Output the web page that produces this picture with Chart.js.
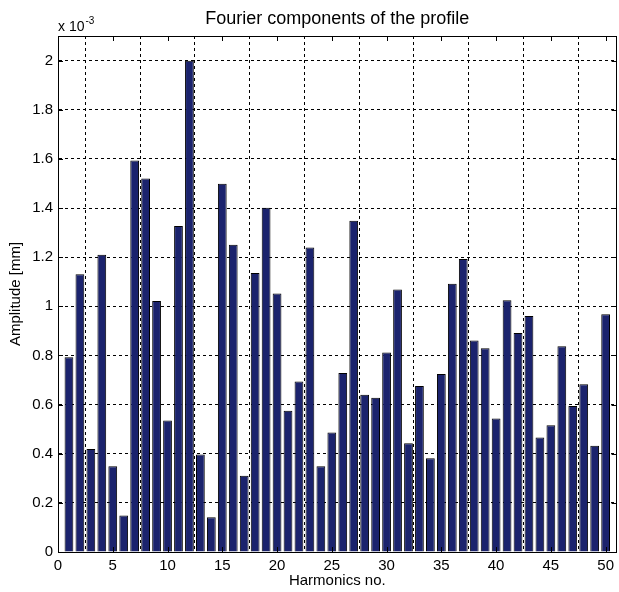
<!DOCTYPE html>
<html>
<head>
<meta charset="utf-8">
<script src="https://cdn.jsdelivr.net/npm/chart.js@4.4.7/dist/chart.umd.min.js"></script>
<style>
  html, body { margin: 0; padding: 0; background: #fff; }
  #wrap { width: 619px; height: 592px; position: relative; }
</style>
</head>
<body>
<div id="wrap"><canvas id="chart"></canvas></div>
<script>
var harmonics = [
  1, 2, 3, 4, 5, 6, 7, 8, 9, 10,
  11, 12, 13, 14, 15, 16, 17, 18, 19, 20,
  21, 22, 23, 24, 25, 26, 27, 28, 29, 30,
  31, 32, 33, 34, 35, 36, 37, 38, 39, 40,
  41, 42, 43, 44, 45, 46, 47, 48, 49, 50
];
// amplitude in units of 1e-3 mm
var amplitude = [
  0.793, 1.130, 0.419, 1.210, 0.349, 0.149, 1.593, 1.520, 1.022, 0.535,
  1.327, 1.999, 0.397, 0.141, 1.499, 1.250, 0.310, 1.135, 1.401, 1.052,
  0.575, 0.694, 1.239, 0.349, 0.486, 0.728, 1.348, 0.640, 0.628, 0.812,
  1.068, 0.443, 0.676, 0.382, 0.724, 1.092, 1.192, 0.861, 0.829, 0.543,
  1.025, 0.891, 0.960, 0.466, 0.516, 0.837, 0.594, 0.683, 0.432, 0.968
];
var xTicks = [0, 5, 10, 15, 20, 25, 30, 35, 40, 45, 50];
var yTicks = [0, 0.2, 0.4, 0.6, 0.8, 1, 1.2, 1.4, 1.6, 1.8, 2];

var FONT = '"Liberation Sans", Arial, sans-serif';

// MATLAB-style box, inward ticks, title and exponent label
var frame = {
  id: 'frame',
  afterDatasetsDraw: function (chart) {
    var a = chart.chartArea;
    var c = chart.ctx;
    var xs = chart.scales.x, ys = chart.scales.y;
    c.save();
    c.strokeStyle = '#000';
    c.lineWidth = 1;
    c.setLineDash([]);
    c.beginPath();
    xTicks.forEach(function (t) {
      var px = Math.round(xs.getPixelForValue(t)) + 0.5;
      c.moveTo(px, a.bottom); c.lineTo(px, a.bottom - 5);
      c.moveTo(px, a.top); c.lineTo(px, a.top + 5);
    });
    yTicks.forEach(function (t) {
      var py = Math.round(ys.getPixelForValue(t)) + 0.5;
      c.moveTo(a.left, py); c.lineTo(a.left + 5, py);
      c.moveTo(a.right, py); c.lineTo(a.right - 5, py);
    });
    c.stroke();
    c.strokeRect(Math.round(a.left) + 0.5, Math.round(a.top) + 0.5,
      Math.round(a.right - a.left) - 1, Math.round(a.bottom - a.top));
    c.restore();
  },
  afterDraw: function (chart) {
    var a = chart.chartArea;
    var c = chart.ctx;
    c.save();
    c.fillStyle = '#000';
    c.textBaseline = 'middle';
    c.textAlign = 'center';
    c.font = '18px ' + FONT;
    c.fillText('Fourier components of the profile', (a.left + a.right) / 2, 19);
    c.textAlign = 'left';
    c.textBaseline = 'alphabetic';
    c.font = '14px ' + FONT;
    c.fillText('x 10', a.left, 31);
    var w = c.measureText('x 10').width;
    c.font = '10px ' + FONT;
    c.fillText('-3', a.left + w + 1, 24);
    c.restore();
  }
};

new Chart(document.getElementById('chart').getContext('2d'), {
  type: 'bar',
  plugins: [frame],
  data: {
    datasets: [{
      data: harmonics.map(function (h, i) { return { x: h, y: amplitude[i] }; }),
      backgroundColor: '#1b236d',
      borderColor: '#000',
      borderWidth: 1,
      categoryPercentage: 1,
      barPercentage: 0.8
    }]
  },
  options: {
    responsive: true,
    maintainAspectRatio: false,
    animation: false,
    layout: { padding: { top: 36, right: 1, left: 0, bottom: 0 } },
    plugins: {
      legend: { display: false },
      tooltip: { enabled: false }
    },
    scales: {
      x: {
        type: 'linear',
        min: 0,
        max: 51,
        offset: false,
        afterBuildTicks: function (s) {
          s.ticks = xTicks.map(function (v) { return { value: v }; });
        },
        afterFit: function (s) { s.height = 40; },
        grid: { color: '#000', lineWidth: 1, drawTicks: false, tickLength: 0 },
        border: { display: true, color: '#000', width: 1, dash: [3, 3] },
        ticks: {
          color: '#000',
          padding: 5,
          maxRotation: 0,
          autoSkip: false,
          font: { family: FONT, size: 15 }
        },
        title: {
          display: true,
          text: 'Harmonics no.',
          color: '#000',
          font: { family: FONT, size: 15 },
          padding: { top: 0, bottom: 2 }
        }
      },
      y: {
        min: 0,
        max: 2.1,
        afterBuildTicks: function (s) {
          s.ticks = yTicks.map(function (v) { return { value: v }; });
        },
        afterFit: function (s) { s.width = 58; },
        grid: { color: '#000', lineWidth: 1, drawTicks: false, tickLength: 0 },
        border: { display: true, color: '#000', width: 1, dash: [3, 3] },
        ticks: {
          color: '#000',
          padding: 5,
          autoSkip: false,
          font: { family: FONT, size: 15 },
          callback: function (v) { return String(Math.round(v * 10) / 10); }
        },
        title: {
          display: true,
          text: 'Amplitude [mm]',
          color: '#000',
          font: { family: FONT, size: 15 },
          padding: { top: 7, bottom: 0 }
        }
      }
    }
  }
});
</script>
</body>
</html>
